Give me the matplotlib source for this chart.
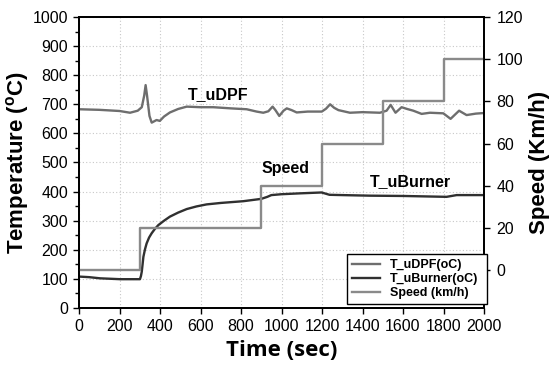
import matplotlib
matplotlib.use("Agg")
import matplotlib.pyplot as plt
from matplotlib.ticker import MultipleLocator

# ---- data ----
dpf_t = [0, 100, 200, 252, 290, 310, 322, 329, 336, 348, 359, 383, 399, 420, 449, 490, 532, 600, 663, 750, 828, 877,
         910, 935, 956, 970, 989, 1010, 1026, 1050, 1075, 1130, 1199, 1220, 1240, 1260, 1281, 1338, 1400, 1486, 1519,
         1539, 1563, 1593, 1620, 1651, 1692, 1733, 1799, 1835, 1877, 1914, 1960, 2000]
dpf_v = [683, 681, 677, 671, 678, 690, 730, 766, 730, 660, 637, 646, 643, 658, 672, 684, 692, 690, 690, 686, 683, 675,
         671, 676, 692, 680, 660, 678, 686, 680, 672, 675, 675, 685, 700, 688, 680, 671, 673, 671, 678,
         698, 671, 690, 684, 678, 667, 671, 669, 650, 678, 663, 668, 670]

burner_t = [0, 50, 104, 203, 301, 306, 310, 314, 318, 326, 334, 346, 359, 375, 392, 420, 449, 490, 532, 580, 630, 700,
            811, 900, 930, 950, 1000, 1091, 1198, 1237, 1300, 1437, 1600, 1815, 1865, 2000]
burner_v = [108, 106, 102, 99, 99, 110, 125, 150, 176, 202, 222, 242, 257, 272, 285, 300, 314, 328, 340, 349, 356, 361,
            367, 375, 382, 388, 391, 394, 397, 389, 388, 386, 385, 382, 388, 388]

speed_t = [0, 300, 900, 1200, 1500, 1800, 2000]
speed_v = [0, 20, 40, 60, 80, 100, 100]

x_ticks = [0, 200, 400, 600, 800, 1000, 1200, 1400, 1600, 1800, 2000]
y_ticks = [0, 100, 200, 300, 400, 500, 600, 700, 800, 900, 1000]
y2_ticks = [0, 20, 40, 60, 80, 100, 120]

c_dpf = "#6e6e6e"
c_burner = "#303030"
c_speed = "#8a8a8a"

fig = plt.figure(figsize=(5.53, 3.67), dpi=100)
ax = fig.add_axes([79/553, 1-308/367, 405/553, 291/367])
ax2 = ax.twinx()

l1, = ax.plot(dpf_t, dpf_v, color=c_dpf, lw=1.7, label="T_uDPF(oC)")
l2, = ax.plot(burner_t, burner_v, color=c_burner, lw=1.7, label="T_uBurner(oC)")
l3, = ax2.step(speed_t, speed_v, where="post", color=c_speed, lw=1.7, label="Speed (km/h)")

ax.set_xlim(0, 2000)
ax.set_ylim(0, 1000)
ax2.set_ylim(-18, 120)
ax.set_xticks(x_ticks)
ax.set_yticks(y_ticks)
ax2.set_yticks(y2_ticks)
ax.yaxis.set_minor_locator(MultipleLocator(50))

ax.grid(True, which="major", color="#c8c8c8", linestyle=(0, (1, 2)), lw=0.8)
ax.set_axisbelow(True)

for lab in ax.get_xticklabels() + ax.get_yticklabels() + ax2.get_yticklabels():
    lab.set_fontfamily("Liberation Sans")
    lab.set_fontsize(11.5)

ax.tick_params(axis="both", which="major", direction="out", length=4, width=1, pad=4)
ax.tick_params(axis="y", which="minor", direction="out", length=3, width=1)
ax2.tick_params(axis="y", direction="out", length=4, width=1, pad=5)
for sp in ax.spines.values():
    sp.set_linewidth(1.3)
for sp in ax2.spines.values():
    sp.set_linewidth(1.3)

ax.set_ylabel("Temperature ($\\mathregular{^{o}}$C)", family="Liberation Sans", weight="bold", fontsize=16, labelpad=1)
ax2.set_ylabel("Speed (Km/h)", family="Liberation Sans", weight="bold", fontsize=16, labelpad=4)
ax.set_xlabel("Time (sec)", family="Open Sans", weight="bold", fontsize=16, labelpad=4)

ax.text(686, 732, "T_uDPF", family="Liberation Sans", weight="bold", fontsize=11.5, ha="center", va="center")
ax.text(1022, 481, "Speed", family="Liberation Sans", weight="bold", fontsize=11.5, ha="center", va="center")
ax.text(1635, 433, "T_uBurner", family="Liberation Sans", weight="bold", fontsize=11.5, ha="center", va="center")

leg = ax2.legend(handles=[l1, l2, l3], loc="lower left", bbox_to_anchor=(0.662, 0.014, 0.345, 0.213),
                 mode="expand", fancybox=False, edgecolor="black", framealpha=1,
                 prop=dict(family="Liberation Sans", weight="bold", size=9),
                 handlelength=2.2, borderpad=0.4, labelspacing=0.15, borderaxespad=0)
leg.get_frame().set_linewidth(1.0)

fig.savefig("out.png", dpi=100)
